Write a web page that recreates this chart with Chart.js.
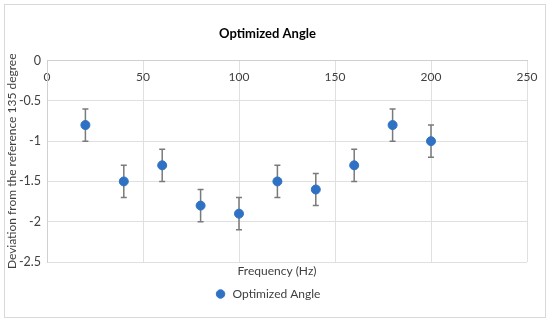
<!DOCTYPE html>
<html>
<head>
<meta charset="utf-8">
<script src="https://cdn.jsdelivr.net/npm/chart.js@4"></script>
<style>
  html, body { margin: 0; padding: 0; background: #fff; }
  #wrap { position: relative; width: 550px; height: 321px; }
  #frame { position: absolute; left: 4px; top: 4px; width: 540px; height: 312px; border: 1px solid #d9d9d9; }
  canvas { position: absolute; left: 0; top: 0; }
</style>
</head>
<body>
<div id="wrap">
  <div id="frame"></div>
  <canvas id="chart" width="550" height="321"></canvas>
</div>
<script>
// data
var frequency = [20, 40, 60, 80, 100, 120, 140, 160, 180, 200];
var deviation = [-0.8, -1.5, -1.3, -1.8, -1.9, -1.5, -1.6, -1.3, -0.8, -1.0];
var errorBar = [0.2, 0.2, 0.2, 0.2, 0.2, 0.2, 0.2, 0.2, 0.2, 0.2];
var xTicks = [0, 50, 100, 150, 200, 250];
var yTicks = [0, -0.5, -1, -1.5, -2, -2.5];

var FONT = 'Lato, "Open Sans", sans-serif';
var blue = '#2f72c4';
var gridGray = '#e0e0e0';

var points = frequency.map(function(f, i) { return { x: f, y: deviation[i] }; });

// draws vertical error bars with caps
var errorBars = {
  id: 'errorBars',
  beforeDatasetsDraw: function(chart) {
    var ctx = chart.ctx;
    var xs = chart.scales.x, ys = chart.scales.y;
    ctx.save();
    ctx.strokeStyle = '#7a7a7a';
    ctx.lineWidth = 1.5;
    for (var i = 0; i < frequency.length; i++) {
      var px = xs.getPixelForValue(frequency[i]);
      var top = ys.getPixelForValue(deviation[i] + errorBar[i]);
      var bot = ys.getPixelForValue(deviation[i] - errorBar[i]);
      ctx.beginPath();
      ctx.moveTo(px, top); ctx.lineTo(px, bot);
      ctx.moveTo(px - 3, top); ctx.lineTo(px + 3, top);
      ctx.moveTo(px - 3, bot); ctx.lineTo(px + 3, bot);
      ctx.stroke();
    }
    ctx.restore();
  }
};

// the axis title sits a bit left of the plot centre in the original
var shiftXTitle = {
  id: 'shiftXTitle',
  afterLayout: function(chart) {
    var s = chart.scales.xTitle;
    s.left -= 10;
    s.right -= 10;
  }
};

var c1 = document.getElementById('chart').getContext('2d');
var chart = new Chart(c1, {
  type: 'scatter',
  data: {
    datasets: [{
      label: 'Optimized Angle',
      data: points,
      backgroundColor: blue,
      borderColor: blue,
      pointRadius: 4.5,
      pointHoverRadius: 4.5,
      xAxisID: 'x',
      yAxisID: 'y'
    }]
  },
  options: {
    responsive: false,
    animation: false,
    layout: { padding: { left: 8, right: 23, top: 0, bottom: 11 } },
    plugins: {
      title: {
        display: true,
        text: 'Optimized Angle',
        color: '#000',
        font: { family: FONT, size: 13, weight: 'bold' },
        padding: { top: 26, bottom: 9 }
      },
      legend: {
        position: 'bottom',
        labels: {
          usePointStyle: true,
          pointStyle: 'circle',
          boxWidth: 12,
          boxHeight: 6,
          color: '#404040',
          font: { family: FONT, size: 12 },
          padding: 10
        }
      },
      tooltip: { enabled: false }
    },
    scales: {
      x: {
        type: 'linear',
        position: 'top',
        min: 0,
        max: 250,
        afterBuildTicks: function(scale) {
          scale.ticks = xTicks.map(function(v) { return { value: v }; });
        },
        afterFit: function(scale) { scale.height = 10; },
        grid: { color: gridGray, drawTicks: false },
        border: { color: '#d0d0d0' },
        ticks: {
          mirror: true,
          padding: 9,
          color: '#404040',
          font: { family: FONT, size: 12 }
        }
      },
      xTitle: {
        type: 'linear',
        position: 'bottom',
        min: 0,
        max: 250,
        afterFit: function(scale) { scale.height = 16; },
        grid: { display: false },
        border: { display: false },
        ticks: { display: false },
        title: {
          display: true,
          text: 'Frequency (Hz)',
          color: '#404040',
          font: { family: FONT, size: 12 },
          padding: 0
        }
      },
      y: {
        type: 'linear',
        min: -2.5,
        max: 0,
        afterBuildTicks: function(scale) {
          scale.ticks = yTicks.map(function(v) { return { value: v }; });
        },
        afterFit: function(scale) { scale.width = 39; },
        grid: { color: gridGray, drawTicks: false },
        border: { color: '#d0d0d0' },
        ticks: {
          padding: 6,
          color: '#404040',
          font: { family: FONT, size: 12.5 },
          callback: function(v) { return String(v); }
        },
        title: {
          display: true,
          text: 'Deviation from the reference 135 degree',
          color: '#404040',
          font: { family: FONT, size: 12 },
          padding: { top: -3, bottom: 0 }
        }
      }
    }
  },
  plugins: [errorBars, shiftXTitle]
});
</script>
</body>
</html>
